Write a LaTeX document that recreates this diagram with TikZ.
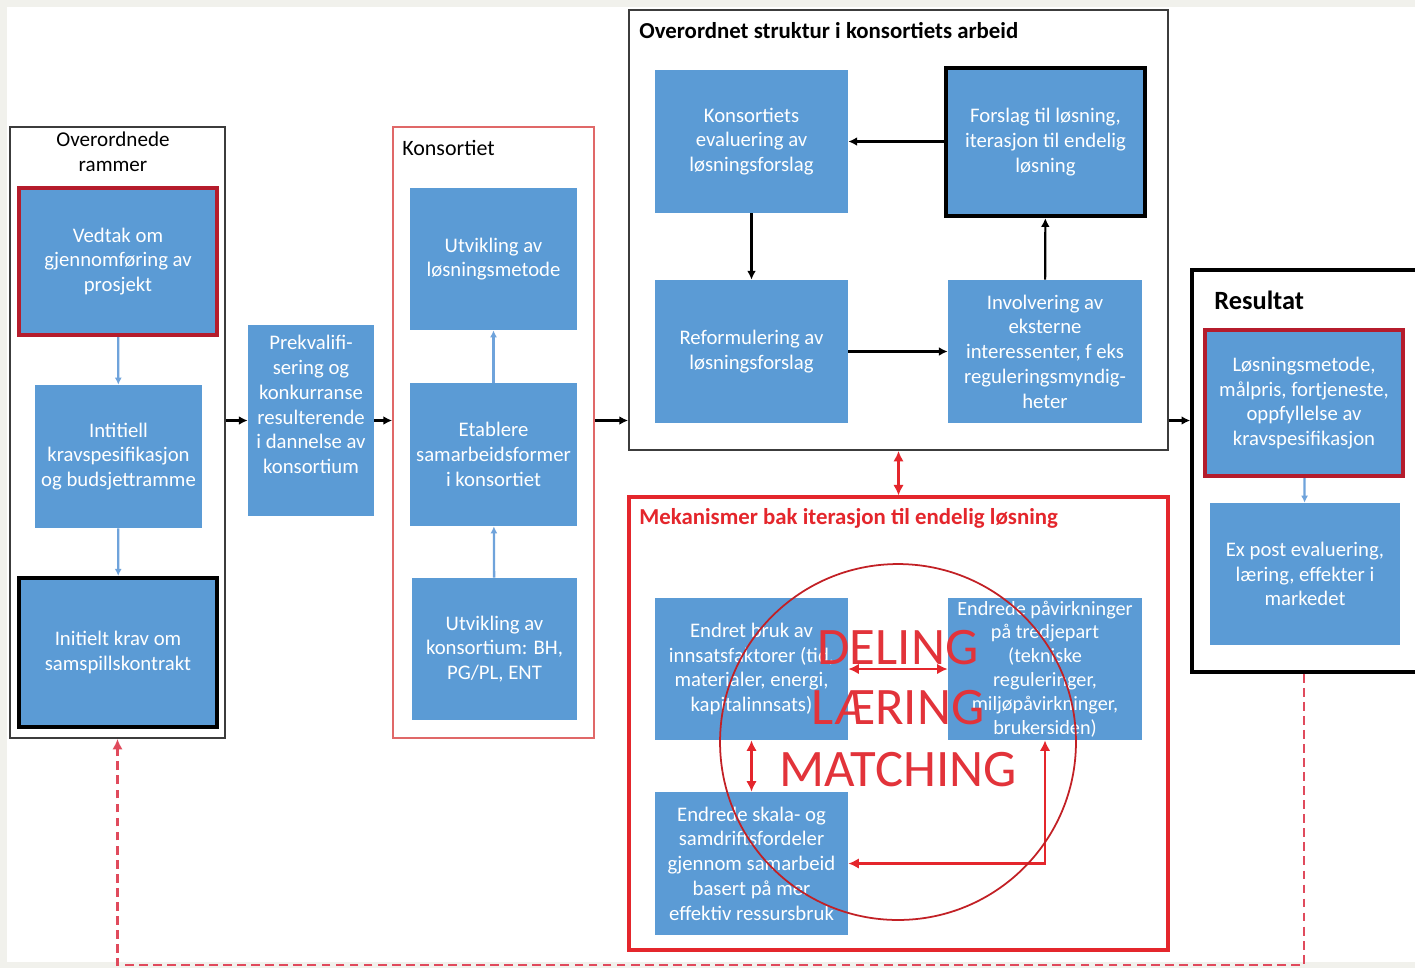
\documentclass[tikz,border=0pt]{standalone}
\usepackage{fontspec}
\setmainfont{Carlito}
\usetikzlibrary{arrows.meta,positioning}
\definecolor{boxblue}{HTML}{5B9BD5}
\definecolor{lineblue}{HTML}{6FA3DB}
\definecolor{framered}{HTML}{B51C2C}
\definecolor{mekred}{HTML}{E4262C}
\definecolor{konsred}{HTML}{E06868}
\definecolor{dashred}{HTML}{E04A5C}
\definecolor{bigred}{HTML}{E2333A}
\definecolor{framegray}{HTML}{3C3C3C}
\definecolor{bggray}{HTML}{F1F1EC}
\begin{document}
\begin{tikzpicture}[x=0.02cm,y=-0.02cm,
    box/.style={fill=boxblue,text=white,align=center,inner sep=2pt,
      font=\fontsize{11.8}{14.1}\selectfont,minimum width=3.86cm,minimum height=2.86cm},
    redframe/.style={draw=framered,line width=2.4pt},
    blackframe/.style={draw=black,line width=2.4pt},
    container/.style={minimum width=10.78cm,line width=1.1pt},
    title/.style={anchor=west,inner sep=0pt,font=\fontsize{13}{15}\selectfont\bfseries},
    blueline/.style={draw=lineblue,line width=1.3pt,-{Latex[length=4pt,width=4pt]}},
    blackline/.style={draw=black,line width=1.2pt,-{Latex[length=5pt,width=5pt]}},
    redline/.style={draw=mekred,line width=1.3pt,{Latex[length=6pt,width=6pt]}-{Latex[length=6pt,width=6pt]}}]
  \fill[bggray] (0,0) rectangle (1415,968);
  \fill[white] (7,7) rectangle (1415,962);
  \clip (0,0) rectangle (1415,968);

  \begin{scope}[every node/.style={draw}]
    \node[framegray,line width=1.1pt,minimum width=4.30cm,minimum height=12.22cm] (rammer) at (117.5,432.5) {};
    \node[konsred,line width=1pt,minimum width=4.02cm,minimum height=12.22cm] (konsort) at (493.5,432.5) {};
    \node[framegray,container,minimum height=8.80cm] (overordnet) at (898.5,230) {};
    \node[mekred,container,line width=1.8pt,minimum height=9.06cm] (mekanismer) at (898.5,723.5) {};
    \node[black,line width=2pt,minimum width=4.76cm,minimum height=8.04cm] (resultat) at (1311,471) {};
  \end{scope}

  \node[font=\fontsize{12}{14.5}\selectfont,align=center] (rammertitle) at (113,152) {Overordnede\\rammer};
  \node[title,font=\fontsize{12.5}{14}\selectfont] (konstitle) at (402,148) {Konsortiet};
  \node[title] (overtitle) at (639,31) {Overordnet struktur i konsortiets arbeid};
  \node[title,text=mekred] (mektitle) at (639,518) {Mekanismer bak iterasjon til endelig løsning};
  \node[title,font=\fontsize{15}{17}\selectfont\bfseries] (restitle) at (1214,300) {Resultat};

  \begin{scope}[every node/.style={box}]
    \node[redframe,minimum width=3.96cm,minimum height=2.94cm] (vedtak) at (118,261.5) {Vedtak om\\gjennomføring av\\prosjekt};
    \node[minimum width=3.34cm] (kravspes) at (118.5,456.5) {Intitiell\\kravspesifikasjon\\og budsjettramme};
    \node[blackframe,minimum width=3.96cm,minimum height=2.98cm] (initielt) at (118,652.5) {Initielt krav om\\samspillskontrakt};
    \node[minimum width=2.52cm,minimum height=3.82cm] (prekval) at (311,420.5) {Prekvalifi-\\sering og\\konkurranse\\resulterende\\i dannelse av\\konsortium\\[4pt]};
    \node[minimum width=3.34cm,minimum height=2.84cm] (utvlos) at (493.5,259) {Utvikling av\\løsningsmetode};
    \node[minimum width=3.34cm] (etablere) at (493.5,454.5) {Etablere\\samarbeidsformer\\i konsortiet};
    \node[minimum width=3.30cm,minimum height=2.84cm] (utvkons) at (494.5,649) {Utvikling av\\konsortium: BH,\\PG/PL, ENT};
    \node (evaluering) at (751.5,141.5) {Konsortiets\\evaluering av\\løsningsforslag};
    \node[blackframe,minimum width=3.98cm,minimum height=2.96cm] (forslag) at (1045.5,142) {Forslag til løsning,\\iterasjon til endelig\\løsning};
    \node (reform) at (751.5,351.5) {Reformulering av\\løsningsforslag};
    \node[minimum width=3.88cm] (involv) at (1045,351.5) {Involvering av\\eksterne\\interessenter, f eks\\reguleringsmyndig-\\heter};
    \node[minimum height=2.84cm] (endbruk) at (751.5,669) {Endret bruk av\\innsatsfaktorer (tid,\\materialer, energi,\\kapitalinnsats)};
    \node[minimum width=3.88cm,minimum height=2.84cm,inner ysep=0pt,font=\fontsize{11.5}{13.6}\selectfont] (endpav) at (1045,669) {Endrede påvirkninger\\på tredjepart\\(tekniske\\reguleringer,\\miljøpåvirkninger,\\brukersiden)};
    \node (skala) at (751.5,863.5) {Endrede skala- og\\samdriftsfordeler\\gjennom samarbeid\\basert på mer\\effektiv ressursbruk};
    \node[redframe,minimum width=3.96cm,minimum height=2.92cm] (losmet) at (1304,403) {Løsningsmetode,\\målpris, fortjeneste,\\oppfyllelse av\\kravspesifikasjon};
    \node[minimum width=3.80cm,minimum height=2.84cm] (expost) at (1305,574) {Ex post evaluering,\\læring, effekter i\\markedet};
  \end{scope}

  \draw[blueline] (vedtak) -- (kravspes);
  \draw[blueline] (kravspes) -- (initielt);
  \draw[blueline] (etablere) -- (utvlos);
  \draw[blueline] (utvkons) -- (etablere);
  \draw[blueline] (losmet) -- (expost);

  \draw[blackline] (rammer.east |- prekval.west) -- (prekval.west);
  \draw[blackline] (prekval.east) -- (konsort.west |- prekval.east);
  \draw[blackline] (konsort.east |- prekval.east) -- (overordnet.west |- prekval.east);
  \draw[blackline] (overordnet.east |- prekval.east) -- (resultat.west |- prekval.east);
  \draw[blackline] (forslag.west |- evaluering.east) -- (evaluering.east);
  \draw[blackline] (evaluering) -- (reform);
  \draw[blackline] (reform) -- (involv);
  \draw[blackline] (involv) -- (forslag);

  \draw[redline] (overordnet.south) -- (mekanismer.north);
  \draw[redline] (endbruk) -- (endpav);
  \draw[redline] (endbruk) -- (skala);
  \draw[redline] (skala.east) -| (endpav.south);

  \node[draw=mekred!85!black,line width=1pt,circle,minimum size=7.12cm] (ring) at (898,742) {};
  \begin{scope}[every node/.style={text=bigred,font=\fontsize{30}{30}\selectfont}]
    \node (deling) at (898,648) {DELING};
    \node (laering) at (898,708) {LÆRING};
    \node (matching) at (898,770) {MATCHING};
  \end{scope}

  \coordinate (fbot) at (0,965);
  \draw[dashred,line width=1.3pt,dash pattern=on 5pt off 3pt,-{Latex[length=6pt,width=6pt]}]
    (losmet.south |- resultat.south) -- (losmet.south |- fbot) -| (rammer.south);
\end{tikzpicture}
\end{document}
